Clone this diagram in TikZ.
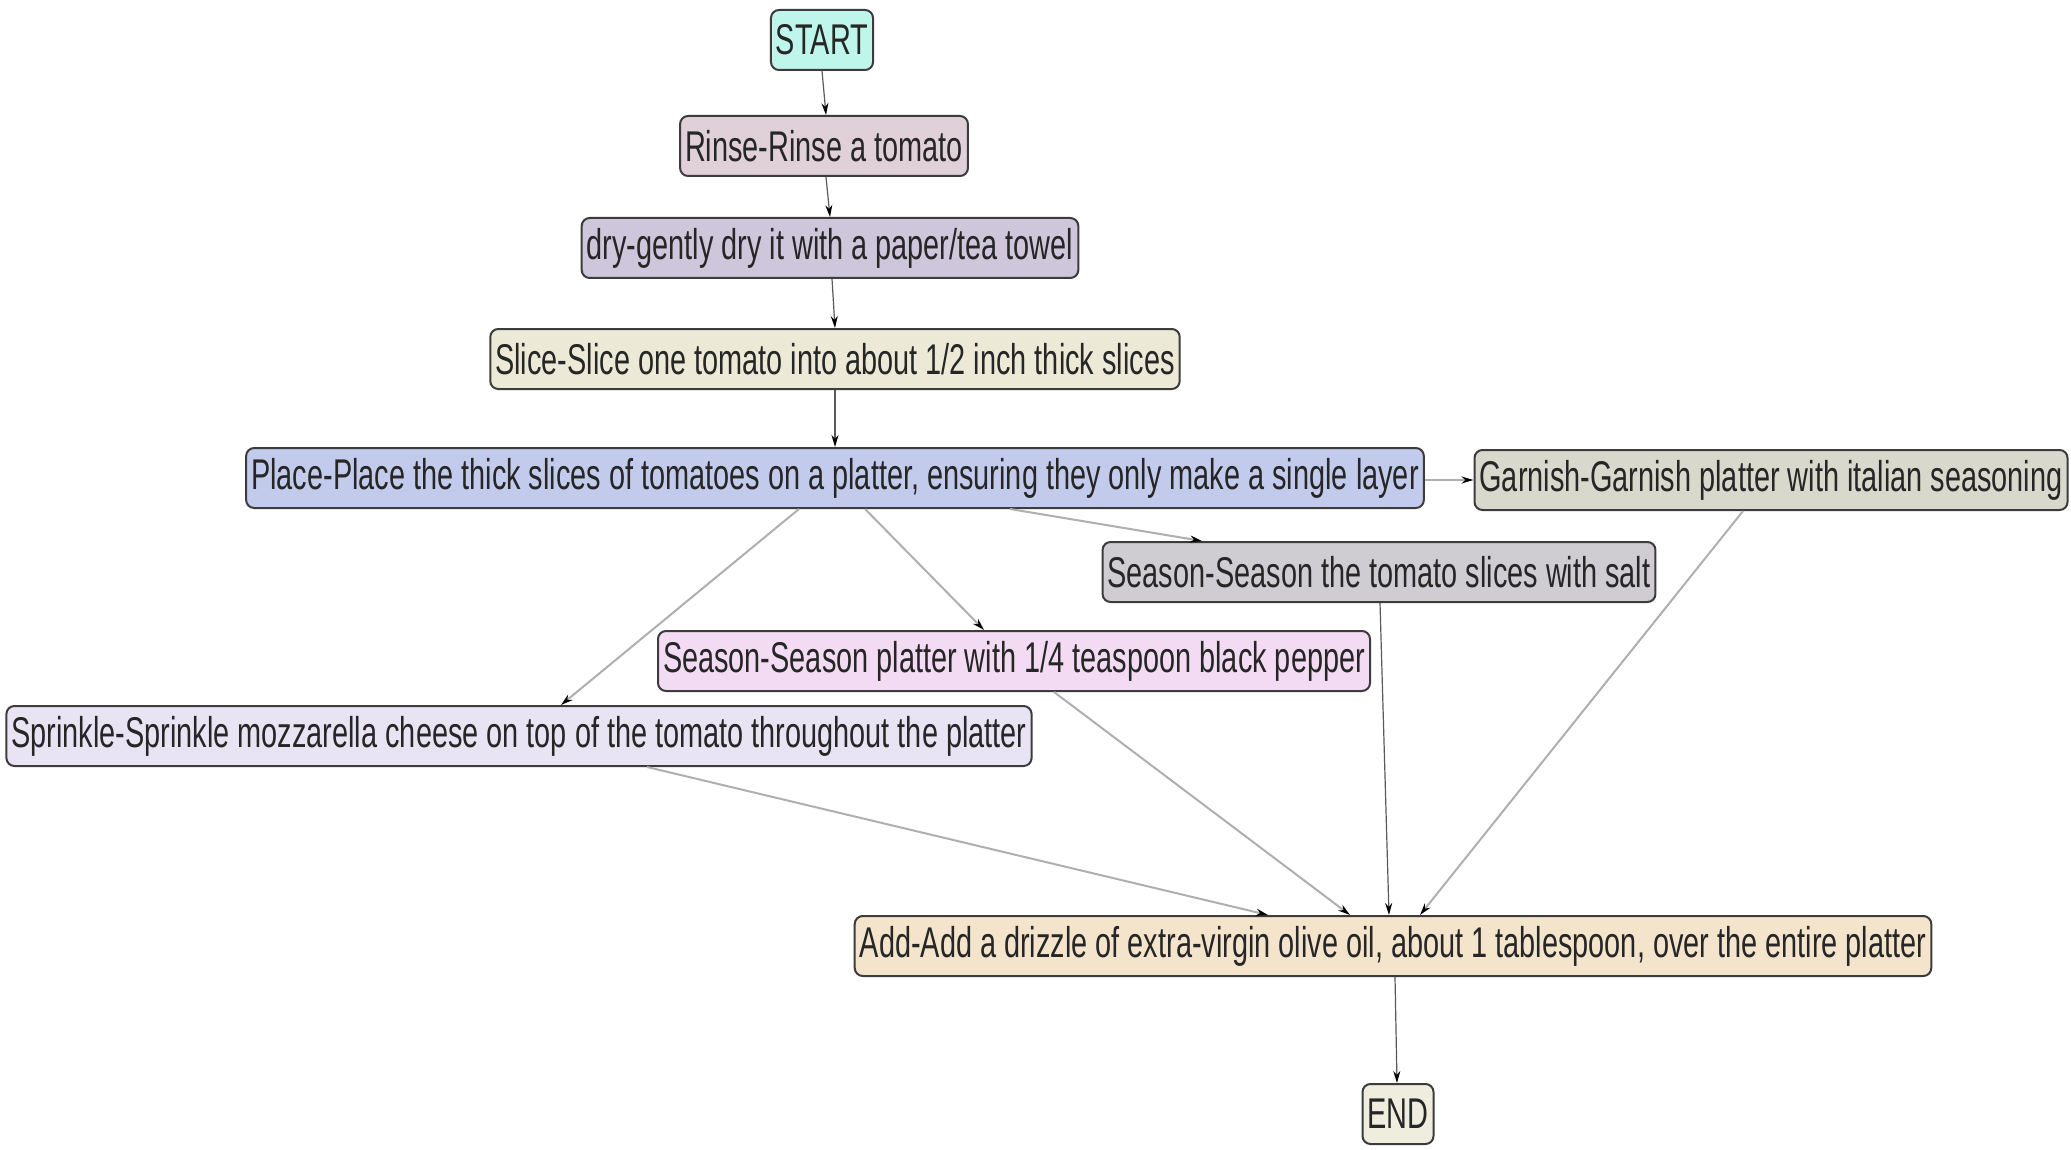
\documentclass[tikz,border=0pt]{standalone}
\usepackage{fontspec}
\setmainfont[FakeStretch=0.672]{Liberation Sans}
\usetikzlibrary{arrows.meta,calc}
\definecolor{cstart}{RGB}{191,246,236}
\definecolor{crinse}{RGB}{224,208,216}
\definecolor{cdry}{RGB}{206,198,218}
\definecolor{cslice}{RGB}{236,234,214}
\definecolor{cplace}{RGB}{195,203,236}
\definecolor{cgarnish}{RGB}{216,216,204}
\definecolor{csalt}{RGB}{207,205,210}
\definecolor{cpepper}{RGB}{243,220,243}
\definecolor{csprinkle}{RGB}{232,228,244}
\definecolor{cadd}{RGB}{244,228,204}
\definecolor{cend}{RGB}{239,237,222}
\definecolor{edgegrey}{RGB}{175,175,175}
\definecolor{edgedark}{RGB}{90,90,90}
\definecolor{boxline}{RGB}{60,60,60}
\tikzset{
  stepbox/.style={draw=boxline, line width=2pt, rounded corners=8pt,
    minimum height=60pt, inner xsep=5pt, inner ysep=0pt,
    font=\fontsize{43}{50}\selectfont, text=black!85},
  darkedge/.style={draw=edgedark, line width=1.2pt, -{Stealth[black,length=12pt,width=7pt]}},
  greyedge/.style={draw=edgegrey, line width=2pt, -{Stealth[black,length=12pt,width=7pt]}}
}
\begin{document}
\begin{tikzpicture}[x=1pt,y=1pt]
\useasboundingbox[fill=white] (0,0) rectangle (2071,-1150);
\node[stepbox, fill=cstart]    (start)    at (822,-40)    {START};
\node[stepbox, fill=crinse]    (rinse)    at (824,-146)   {Rinse-Rinse a tomato};
\node[stepbox, fill=cdry]      (dry)      at (830,-248)   {dry-gently dry it with a paper/tea towel};
\node[stepbox, fill=cslice]    (slice)    at (835,-359)   {Slice-Slice one tomato into about 1/2 inch thick slices};
\node[stepbox, fill=cplace]    (place)    at (835,-478)   {Place-Place the thick slices of tomatoes on a platter, ensuring they only make a single layer};
\node[stepbox, fill=cgarnish]  (garnish)  at (1771,-480)  {Garnish-Garnish platter with italian seasoning};
\node[stepbox, fill=csalt]     (salt)     at (1379,-572)  {Season-Season the tomato slices with salt};
\node[stepbox, fill=cpepper]   (pepper)   at (1014,-661)  {Season-Season platter with 1/4 teaspoon black pepper};
\node[stepbox, fill=csprinkle] (sprinkle) at (519,-736)   {Sprinkle-Sprinkle mozzarella cheese on top of the tomato throughout the platter};
\node[stepbox, fill=cadd]      (add)      at (1393,-946)  {Add-Add a drizzle of extra-virgin olive oil, about 1 tablespoon, over the entire platter};
\node[stepbox, fill=cend]      (end)      at (1398,-1114) {END};

\draw[darkedge] (start.south) -- ([xshift=2pt]rinse.north);
\draw[darkedge] ([xshift=2pt]rinse.south) -- (dry.north);
\draw[darkedge] ([xshift=2pt]dry.south) -- (slice.north);
\draw[darkedge] (slice.south) -- (place.north);
\draw[greyedge] ([yshift=-2pt]place.east) -- (garnish.west);
\draw[greyedge] ([xshift=175pt]place.south) -- ([xshift=-177pt]salt.north);
\draw[greyedge] ([xshift=30pt]place.south) -- ([xshift=-30pt]pepper.north);
\draw[greyedge] ([xshift=-36pt]place.south) -- ([xshift=42pt]sprinkle.north);
\draw[greyedge] ([xshift=128pt]sprinkle.south) -- ([xshift=-125pt]add.north);
\draw[greyedge] ([xshift=40pt]pepper.south) -- ([xshift=-43pt]add.north);
\draw[darkedge] ([xshift=1pt]salt.south) -- ([xshift=-4pt]add.north);
\draw[greyedge] ([xshift=-28pt]garnish.south) -- ([xshift=27pt]add.north);
\draw[darkedge] ([xshift=2pt]add.south) -- ([xshift=-1pt]end.north);
\end{tikzpicture}
\end{document}
